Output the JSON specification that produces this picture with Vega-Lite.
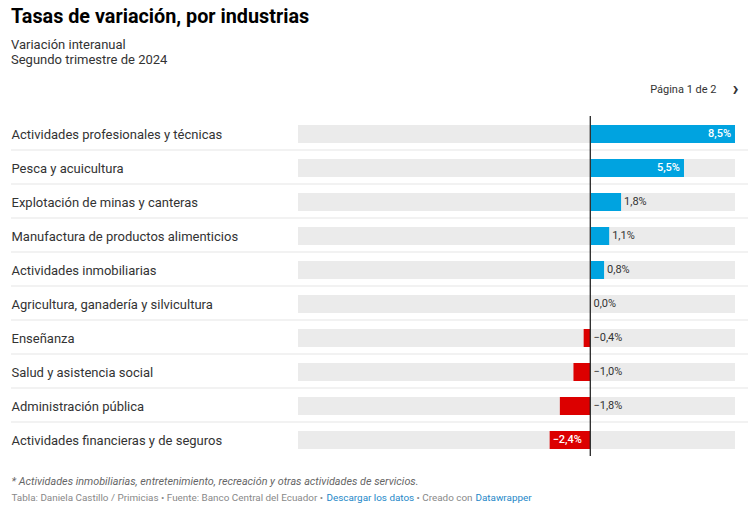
{
  "$schema": "https://vega.github.io/schema/vega-lite/v6.json",
  "width": 737,
  "height": 340,
  "autosize": {"type": "none"},
  "padding": {"left": 11, "top": 116, "right": 7, "bottom": 57},
  "background": "white",
  "config": {
    "font": "Roboto",
    "view": {"stroke": null},
    "axis": {"labelFont": "Roboto", "titleFont": "Roboto", "grid": false, "domain": false, "ticks": false}
  },
  "title": {
    "text": "Tasas de variación, por industrias",
    "subtitle": ["Variación interanual", "Segundo trimestre de 2024"],
    "anchor": "start",
    "frame": "group",
    "font": "Roboto",
    "fontSize": 19.8,
    "fontWeight": "bold",
    "color": "#000000",
    "subtitleFont": "Roboto",
    "subtitleFontSize": 13,
    "subtitleColor": "#333333",
    "subtitleLineHeight": 15,
    "subtitlePadding": 12,
    "offset": 11
  },
  "data": {
    "values": [
      {"industria": "Actividades profesionales y técnicas", "valor": 8.5, "etiqueta": "8,5%"},
      {"industria": "Pesca y acuicultura", "valor": 5.5, "etiqueta": "5,5%"},
      {"industria": "Explotación de minas y canteras", "valor": 1.8, "etiqueta": "1,8%"},
      {"industria": "Manufactura de productos alimenticios", "valor": 1.1, "etiqueta": "1,1%"},
      {"industria": "Actividades inmobiliarias", "valor": 0.8, "etiqueta": "0,8%"},
      {"industria": "Agricultura, ganadería y silvicultura", "valor": 0.0, "etiqueta": "0,0%"},
      {"industria": "Enseñanza", "valor": -0.4, "etiqueta": "−0,4%"},
      {"industria": "Salud y asistencia social", "valor": -1.0, "etiqueta": "−1,0%"},
      {"industria": "Administración pública", "valor": -1.8, "etiqueta": "−1,8%"},
      {"industria": "Actividades financieras y de seguros", "valor": -2.4, "etiqueta": "−2,4%"}
    ]
  },
  "resolve": {"axis": {"x": "independent", "y": "independent"}},
  "layer": [
    {
      "mark": {"type": "bar", "color": "#ebebeb", "height": {"band": 0.53}, "yOffset": 1},
      "encoding": {
        "y": {
          "field": "industria", "type": "nominal", "sort": null,
          "scale": {"paddingInner": 0, "paddingOuter": 0},
          "axis": {
            "orient": "left", "labelAlign": "left", "labelPadding": 0, "tickSize": 0, "labelOffset": 1.5,
            "labelFontSize": 13, "labelColor": "#333333", "labelLimit": 290, "labelBaseline": "middle",
            "title": "* Actividades inmobiliarias, entretenimiento, recreación y otras actividades de servicios.",
            "titleAngle": 0, "titleX": 0, "titleY": 368, "titleAlign": "left", "titleBaseline": "alphabetic",
            "titleFontStyle": "italic", "titleFontWeight": "normal", "titleFontSize": 10.8, "titleColor": "#666666"
          }
        },
        "x": {
          "datum": -17.2, "type": "quantitative",
          "scale": {"domain": [-17.2, 8.5], "range": [287, 724], "nice": false, "zero": false},
          "axis": {
            "orient": "bottom", "labels": false,
            "title": "Tabla: Daniela Castillo / Primicias • Fuente: Banco Central del Ecuador •",
            "titleX": 0, "titleY": 44, "titleAlign": "left", "titleBaseline": "alphabetic",
            "titleFontWeight": "normal", "titleFontSize": 9.9, "titleColor": "#888888"
          }
        },
        "x2": {"datum": 8.5}
      }
    },
    {
      "transform": [{"filter": "datum.valor != 8.5"}],
      "mark": {"type": "rule", "color": "#e5e5e5", "strokeWidth": 1},
      "encoding": {
        "y": {"field": "industria", "type": "nominal", "sort": null, "bandPosition": 0, "axis": null}
      }
    },
    {
      "mark": {"type": "bar", "height": {"band": 0.53}, "yOffset": 1},
      "encoding": {
        "y": {
          "field": "industria", "type": "nominal", "sort": null,
          "axis": {
            "orient": "right", "labels": false, "title": "›", "titleAngle": 0,
            "titleX": -13, "titleY": -28, "titleAlign": "center", "titleBaseline": "middle",
            "titleFontSize": 20, "titleFontWeight": "bold", "titleColor": "#333333"
          }
        },
        "x": {
          "field": "valor", "type": "quantitative",
          "axis": {
            "orient": "bottom", "labels": false, "title": "Descargar los datos",
            "titleX": 315, "titleY": 44, "titleAlign": "left", "titleBaseline": "alphabetic",
            "titleFontWeight": "normal", "titleFontSize": 9.9, "titleColor": "#1d87c8"
          }
        },
        "x2": {"datum": 0},
        "color": {
          "condition": {"test": "datum.valor > 0", "value": "#00a3e0"},
          "value": "#dc0000"
        }
      }
    },
    {
      "mark": {"type": "rule", "color": "#333333", "strokeWidth": 1},
      "encoding": {
        "x": {
          "datum": 0, "type": "quantitative",
          "axis": {
            "orient": "top", "labels": false, "title": "Página 1 de 2",
            "titleX": 705, "titleY": -27, "titleAlign": "right", "titleBaseline": "middle",
            "titleFontWeight": "normal", "titleFontSize": 11, "titleColor": "#333333"
          }
        }
      }
    },
    {
      "transform": [{"filter": "datum.valor >= 2.4"}],
      "mark": {"type": "text", "align": "right", "baseline": "middle", "dx": -4, "dy": 1, "fontSize": 11, "color": "white", "fontWeight": 500},
      "encoding": {
        "y": {"field": "industria", "type": "nominal", "sort": null, "axis": null},
        "x": {
          "field": "valor", "type": "quantitative",
          "axis": {
            "orient": "bottom", "labels": false, "title": "• Creado con",
            "titleX": 405, "titleY": 44, "titleAlign": "left", "titleBaseline": "alphabetic",
            "titleFontWeight": "normal", "titleFontSize": 9.9, "titleColor": "#888888"
          }
        },
        "text": {"field": "etiqueta"}
      }
    },
    {
      "transform": [{"filter": "datum.valor <= -2.4"}],
      "mark": {"type": "text", "align": "left", "baseline": "middle", "dx": 3, "dy": 1, "fontSize": 11, "color": "white", "fontWeight": 500},
      "encoding": {
        "y": {"field": "industria", "type": "nominal", "sort": null, "axis": null},
        "x": {
          "field": "valor", "type": "quantitative",
          "axis": {
            "orient": "bottom", "labels": false, "title": "Datawrapper",
            "titleX": 464, "titleY": 44, "titleAlign": "left", "titleBaseline": "alphabetic",
            "titleFontWeight": "normal", "titleFontSize": 9.9, "titleColor": "#1d87c8"
          }
        },
        "text": {"field": "etiqueta"}
      }
    },
    {
      "transform": [{"filter": "datum.valor > 0 && datum.valor < 2.4"}],
      "mark": {"type": "text", "align": "left", "baseline": "middle", "dx": 3, "dy": 1, "fontSize": 11, "color": "#333333"},
      "encoding": {
        "y": {"field": "industria", "type": "nominal", "sort": null, "axis": null},
        "x": {"field": "valor", "type": "quantitative", "axis": null},
        "text": {"field": "etiqueta"}
      }
    },
    {
      "transform": [{"filter": "datum.valor <= 0 && datum.valor > -2.4"}],
      "mark": {"type": "text", "align": "left", "baseline": "middle", "dx": 3, "dy": 1, "fontSize": 11, "color": "#333333"},
      "encoding": {
        "y": {"field": "industria", "type": "nominal", "sort": null, "axis": null},
        "x": {"datum": 0, "type": "quantitative", "axis": null},
        "text": {"field": "etiqueta"}
      }
    }
  ]
}
